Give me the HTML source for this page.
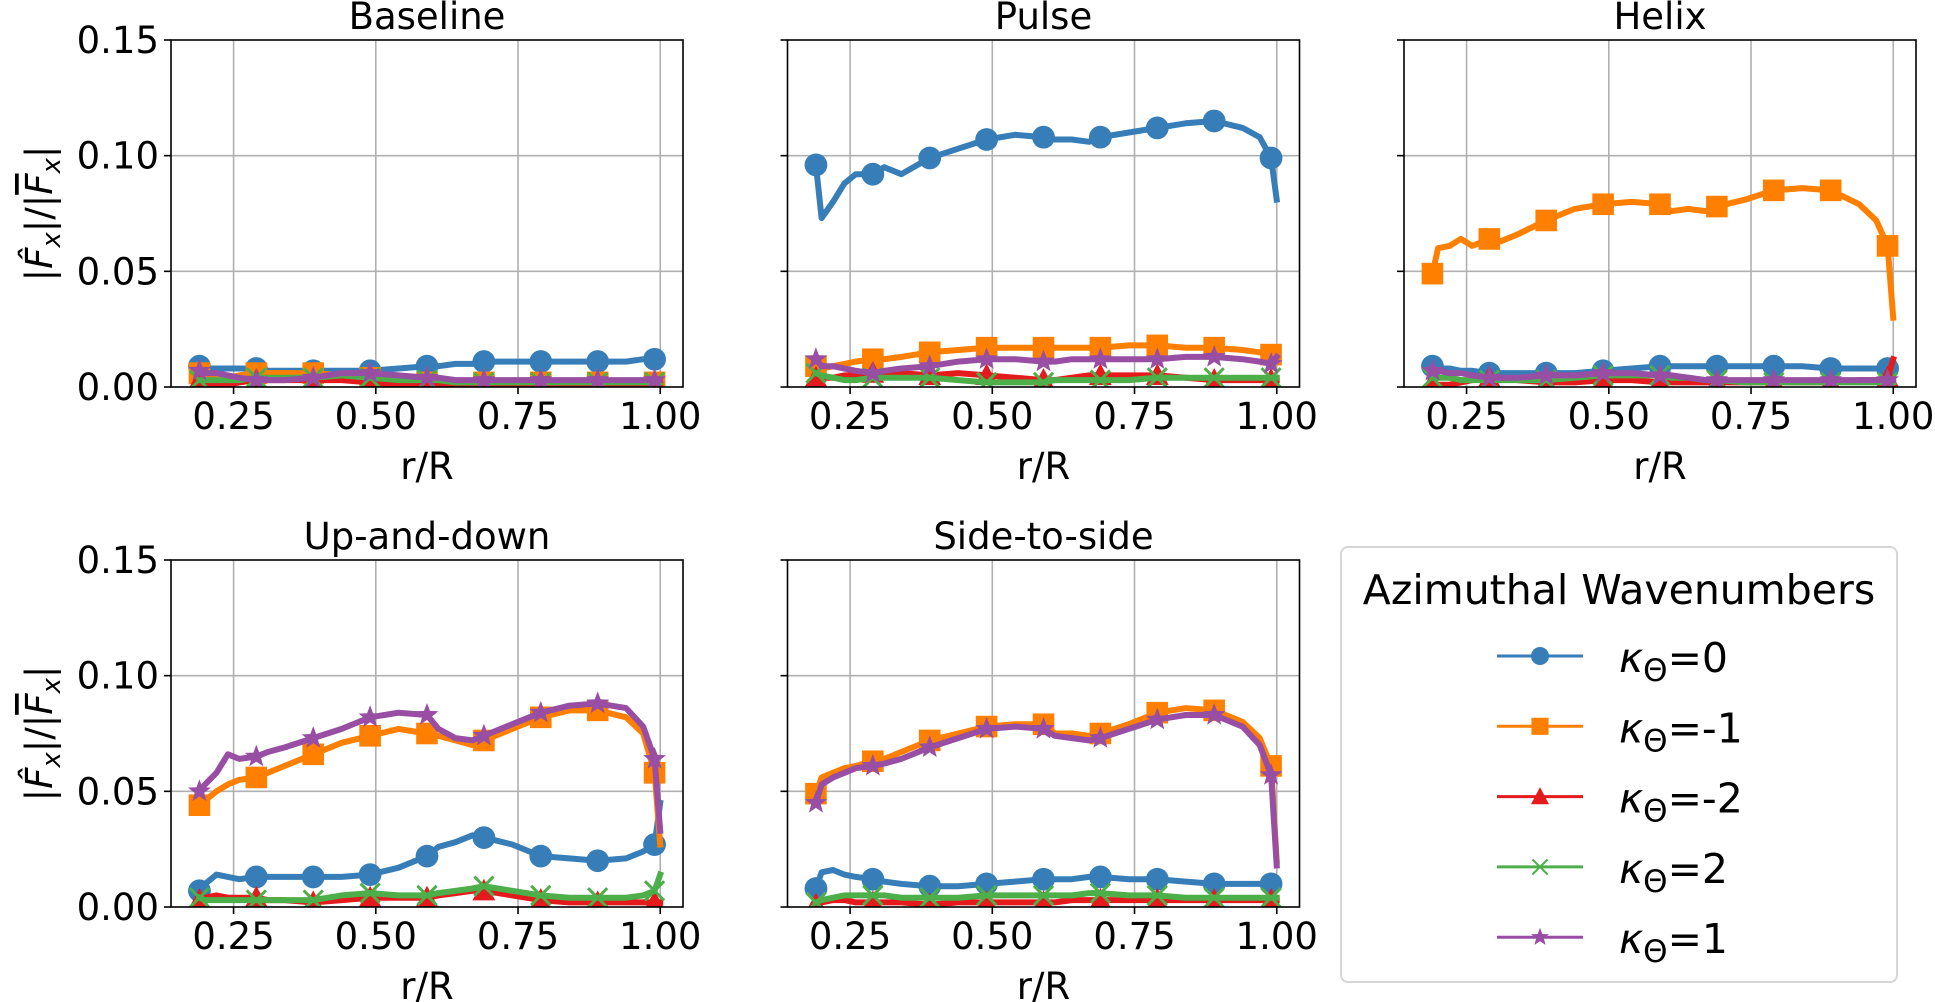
<!DOCTYPE html>
<html><head><meta charset="utf-8"><style>
html,body{margin:0;padding:0;background:#fff;}
svg{display:block;font-family:"DejaVu Sans","Liberation Sans",sans-serif;}
</style></head><body>
<svg id="chart" width="1935" height="1002" viewBox="0 0 1935 1002" xmlns="http://www.w3.org/2000/svg"></svg>
<script>
const rGrid = [0.19,0.20,0.22,0.24,0.26,0.29,0.31,0.34,0.39,0.44,0.49,0.54,0.59,0.61,0.64,0.67,0.69,0.74,0.79,0.84,0.89,0.94,0.97,0.99,1.00];
const markerIdx = [0,5,8,10,12,16,18,20,23];
const xTicks = [0.25,0.50,0.75,1.00];
const xTickLabels = ["0.25","0.50","0.75","1.00"];
const yTicks = [0,0.05,0.10,0.15];
const yTickLabels = ["0.00","0.05","0.10","0.15"];
const panelTitles = ["Baseline","Pulse","Helix","Up-and-down","Side-to-side"];
const seriesLabels = ["0","-1","-2","2","1"];

const baselineK0 = [0.009,0.008,0.008,0.008,0.008,0.008,0.007,0.007,0.007,0.007,0.007,0.008,0.009,0.009,0.010,0.010,0.011,0.011,0.011,0.011,0.011,0.011,0.012,0.012,0.012];
const baselineKm1 = [0.006,0.005,0.004,0.004,0.005,0.006,0.006,0.006,0.006,0.005,0.004,0.003,0.002,0.002,0.002,0.002,0.002,0.002,0.002,0.002,0.002,0.002,0.002,0.002,0.002];
const baselineKm2 = [0.003,0.002,0.001,0.001,0.002,0.003,0.003,0.003,0.003,0.003,0.002,0.001,0.001,0.001,0.001,0.001,0.001,0.001,0.001,0.001,0.001,0.001,0.001,0.001,0.001];
const baselineK2 = [0.003,0.003,0.003,0.003,0.003,0.004,0.004,0.004,0.004,0.005,0.004,0.003,0.003,0.003,0.002,0.002,0.002,0.002,0.002,0.002,0.002,0.002,0.002,0.002,0.002];
const baselineK1 = [0.007,0.006,0.006,0.005,0.004,0.003,0.003,0.003,0.004,0.006,0.006,0.005,0.004,0.004,0.003,0.003,0.003,0.003,0.003,0.003,0.003,0.003,0.003,0.003,0.003];

const pulseK0 = [0.096,0.073,0.080,0.088,0.092,0.092,0.095,0.092,0.099,0.103,0.107,0.109,0.108,0.107,0.107,0.106,0.108,0.110,0.112,0.114,0.115,0.112,0.108,0.099,0.081];
const pulseKm1 = [0.009,0.008,0.009,0.010,0.011,0.012,0.012,0.013,0.015,0.016,0.017,0.017,0.017,0.017,0.017,0.017,0.017,0.018,0.018,0.017,0.017,0.016,0.015,0.014,0.013];
const pulseKm2 = [0.004,0.004,0.004,0.005,0.005,0.006,0.006,0.006,0.005,0.006,0.005,0.004,0.003,0.003,0.004,0.005,0.005,0.005,0.005,0.004,0.003,0.003,0.003,0.003,0.003];
const pulseK2 = [0.006,0.005,0.004,0.003,0.003,0.004,0.004,0.004,0.004,0.003,0.002,0.002,0.002,0.003,0.003,0.003,0.003,0.003,0.004,0.004,0.004,0.004,0.004,0.004,0.004];
const pulseK1 = [0.012,0.009,0.009,0.008,0.007,0.006,0.007,0.008,0.009,0.011,0.012,0.012,0.011,0.011,0.012,0.012,0.012,0.012,0.012,0.013,0.013,0.012,0.011,0.010,0.013];

const helixK0 = [0.009,0.008,0.008,0.007,0.007,0.006,0.006,0.006,0.006,0.006,0.007,0.008,0.009,0.009,0.009,0.009,0.009,0.009,0.009,0.009,0.008,0.008,0.008,0.008,0.009];
const helixKm1 = [0.049,0.060,0.061,0.064,0.061,0.064,0.063,0.066,0.072,0.077,0.079,0.080,0.079,0.076,0.077,0.076,0.078,0.081,0.085,0.086,0.085,0.079,0.072,0.061,0.030];
const helixKm2 = [0.002,0.001,0.001,0.002,0.003,0.004,0.004,0.003,0.002,0.002,0.003,0.003,0.002,0.002,0.002,0.002,0.002,0.002,0.002,0.002,0.002,0.003,0.003,0.004,0.012];
const helixK2 = [0.004,0.004,0.004,0.003,0.003,0.003,0.003,0.003,0.003,0.004,0.005,0.005,0.005,0.004,0.004,0.003,0.003,0.002,0.002,0.002,0.002,0.002,0.002,0.002,0.002];
const helixK1 = [0.007,0.007,0.006,0.006,0.005,0.004,0.004,0.004,0.005,0.005,0.006,0.006,0.005,0.005,0.004,0.003,0.003,0.003,0.003,0.003,0.003,0.003,0.003,0.003,0.003];

const updownK0 = [0.007,0.010,0.014,0.013,0.012,0.013,0.013,0.013,0.013,0.013,0.014,0.017,0.022,0.026,0.028,0.031,0.030,0.027,0.022,0.021,0.020,0.021,0.024,0.027,0.045];
const updownKm1 = [0.044,0.046,0.050,0.053,0.055,0.056,0.058,0.061,0.066,0.071,0.074,0.077,0.075,0.074,0.072,0.070,0.072,0.077,0.082,0.085,0.085,0.082,0.075,0.058,0.027];
const updownKm2 = [0.003,0.004,0.005,0.004,0.004,0.004,0.003,0.003,0.002,0.003,0.004,0.004,0.004,0.005,0.006,0.007,0.007,0.005,0.003,0.002,0.002,0.002,0.002,0.002,0.002];
const updownK2 = [0.004,0.003,0.003,0.003,0.003,0.003,0.003,0.003,0.003,0.005,0.006,0.005,0.005,0.006,0.007,0.008,0.009,0.007,0.005,0.004,0.004,0.004,0.005,0.007,0.014];
const updownK1 = [0.050,0.053,0.058,0.066,0.064,0.065,0.067,0.069,0.073,0.077,0.082,0.084,0.083,0.077,0.073,0.072,0.074,0.079,0.084,0.087,0.088,0.086,0.078,0.064,0.033];

const sideK0 = [0.008,0.015,0.016,0.014,0.013,0.012,0.011,0.010,0.009,0.009,0.010,0.011,0.012,0.012,0.012,0.013,0.013,0.012,0.012,0.011,0.010,0.010,0.010,0.010,0.010];
const sideKm1 = [0.049,0.056,0.058,0.060,0.061,0.063,0.064,0.067,0.072,0.075,0.078,0.079,0.079,0.075,0.075,0.074,0.075,0.079,0.084,0.086,0.085,0.080,0.073,0.061,0.020];
const sideKm2 = [0.001,0.002,0.003,0.003,0.002,0.002,0.002,0.002,0.001,0.002,0.002,0.002,0.002,0.002,0.003,0.003,0.003,0.003,0.003,0.003,0.003,0.003,0.003,0.003,0.003];
const sideK2 = [0.002,0.003,0.004,0.005,0.005,0.005,0.005,0.004,0.004,0.004,0.005,0.005,0.005,0.005,0.005,0.006,0.006,0.005,0.005,0.004,0.004,0.004,0.004,0.004,0.004];
const sideK1 = [0.045,0.053,0.056,0.058,0.060,0.061,0.062,0.064,0.069,0.073,0.077,0.078,0.077,0.074,0.073,0.072,0.073,0.077,0.081,0.083,0.083,0.078,0.070,0.057,0.018];

const panelData = [
  [baselineK0,baselineKm1,baselineKm2,baselineK2,baselineK1],
  [pulseK0,pulseKm1,pulseKm2,pulseK2,pulseK1],
  [helixK0,helixKm1,helixKm2,helixK2,helixK1],
  [updownK0,updownKm1,updownKm2,updownK2,updownK1],
  [sideK0,sideKm1,sideKm2,sideK2,sideK1]
];
const colors = ["#377eb8","#ff7f00","#e41a1c","#4daf4a","#984ea3"];
const markers = ["circle","square","triangle","x","star"];
const seriesNames = ["k0","k-1","k-2","k2","k1"];

const NS = "http://www.w3.org/2000/svg";
const svg = document.getElementById("chart");
function mk(tag, attrs, parent){
  const e = document.createElementNS(NS, tag);
  for (const k in attrs) e.setAttribute(k, attrs[k]);
  (parent||svg).appendChild(e);
  return e;
}
const W = 512, XMIN = 0.14, XMAX = 1.04, YMAX = 0.15;
const panelPos = [[171,40],[787.5,40],[1404,40],[171,560],[787.5,560]];
const H = 347;

function drawMarker(g, type, x, y, c, legend){
  const s = legend ? 0.95 : 1.2;
  let m;
  if (type==="circle") m = mk("circle",{cx:x,cy:y,r:9.5*s,fill:c},g);
  else if (type==="square") m = mk("rect",{x:x-9*s,y:y-9*s,width:18*s,height:18*s,fill:c},g);
  else if (type==="triangle") m = mk("polygon",{points:`${x},${y-10*s} ${x+9.5*s},${y+8*s} ${x-9.5*s},${y+8*s}`,fill:c},g);
  else if (type==="x") m = mk("path",{d:`M${x-8*s},${y-8*s}L${x+8*s},${y+8*s}M${x-8*s},${y+8*s}L${x+8*s},${y-8*s}`,stroke:c,"stroke-width":legend?2:3,fill:"none"},g);
  else {
    let p=[];
    for(let i=0;i<10;i++){const a=-Math.PI/2+i*Math.PI/5;const rr=(i%2?4.2:10)*s;p.push((x+rr*Math.cos(a)).toFixed(1)+","+(y+rr*Math.sin(a)).toFixed(1));}
    m = mk("polygon",{points:p.join(" "),fill:c},g);
  }
  
  
}

panelData.forEach((series, pi) => {
  const [x0,y0] = panelPos[pi];
  const xs = v => x0 + (v - XMIN)/(XMAX - XMIN)*W;
  const ys = v => y0 + H - v/YMAX*H;
  const g = mk("g",{});
  
  
  const clipId = "clip"+pi;
  const cp = mk("clipPath",{id:clipId},g);
  mk("rect",{x:x0,y:y0,width:W,height:H},cp);
  xTicks.forEach((t,i)=>{
    const gl = mk("line",{x1:xs(t),x2:xs(t),y1:y0,y2:y0+H,stroke:"#b0b0b0","stroke-width":1.6},g);
    
    
    mk("line",{x1:xs(t),x2:xs(t),y1:y0+H,y2:y0+H+7,stroke:"#000","stroke-width":1.6},g);
    const tl = mk("text",{x:xs(t),y:y0+H+42,"font-size":37,"text-anchor":"middle",fill:"#000"},g);
    tl.textContent = xTickLabels[i];
    
    
  });
  yTicks.forEach((t,i)=>{
    if (t>0 && t<YMAX) {
      const gl = mk("line",{x1:x0,x2:x0+W,y1:ys(t),y2:ys(t),stroke:"#b0b0b0","stroke-width":1.6},g);
      
      
    }
    mk("line",{x1:x0-7,x2:x0,y1:ys(t),y2:ys(t),stroke:"#000","stroke-width":1.6},g);
    if (pi===0 || pi===3) {
      const tl = mk("text",{x:x0-12,y:ys(t)+13,"font-size":37,"text-anchor":"end",fill:"#000"},g);
      tl.textContent = yTickLabels[i];
      
      
    }
  });
  const sg = mk("g",{"clip-path":`url(#${clipId})`},g);
  series.forEach((vals, si)=>{
    const d = vals.map((v,i)=>(i?"L":"M")+xs(rGrid[i]).toFixed(1)+","+ys(v).toFixed(1)).join("");
    const ln = mk("path",{d:d,fill:"none",stroke:colors[si],"stroke-width":6,"stroke-linejoin":"round","stroke-linecap":"square"},sg);
    
    
    markerIdx.forEach(i=>drawMarker(sg, markers[si], xs(rGrid[i]), ys(vals[i]), colors[si]));
  });
  const fr = mk("rect",{x:x0,y:y0,width:W,height:H,fill:"none",stroke:"#000","stroke-width":1.6},g);
  
  
  const tt = mk("text",{x:x0+W/2,y:y0-11,"font-size":37,"text-anchor":"middle",fill:"#000"},g);
  tt.textContent = panelTitles[pi];
  
  
  const xl = mk("text",{x:x0+W/2,y:y0+H+92,"font-size":37,"text-anchor":"middle",fill:"#000"},g);
  xl.textContent = "r/R";
  
  
  if (pi===0 || pi===3) {
    const cy = y0 + H/2;
    const yl = mk("text",{x:0,y:0,"font-size":37,"text-anchor":"middle",fill:"#000",transform:`translate(52,${cy}) rotate(-90)`},g);
    yl.innerHTML = '|<tspan font-style="italic">F̂</tspan><tspan font-style="italic" font-size="26" dy="8">x</tspan><tspan dy="-8">|/|</tspan><tspan font-style="italic" text-decoration="overline">F</tspan><tspan font-style="italic" font-size="26" dy="8">x</tspan><tspan dy="-8">|</tspan>';
    
    
  }
});

const lg = mk("g",{});


mk("rect",{x:1341,y:547,width:556,height:435,rx:7,fill:"#fff",stroke:"#d6d6d6","stroke-width":2},lg);
const lt = mk("text",{x:1619,y:604,"font-size":41,"text-anchor":"middle",fill:"#000"},lg);
lt.textContent = "Azimuthal Wavenumbers";


seriesLabels.forEach((lab,i)=>{
  const y = 656 + i*70.3;
  const eg = mk("g",{},lg);
  
  
  mk("line",{x1:1497,x2:1583,y1:y,y2:y,stroke:colors[i],"stroke-width":3},eg);
  drawMarker(eg, markers[i], 1540, y, colors[i], true);
  const t = mk("text",{x:1619,y:y+16,"font-size":41,fill:"#000"},eg);
  t.innerHTML = '<tspan font-style="italic">κ</tspan><tspan font-size="31" dy="9">Θ</tspan><tspan dy="-9">=' + lab + '</tspan>';
  
  
});
</script>
</body></html>
